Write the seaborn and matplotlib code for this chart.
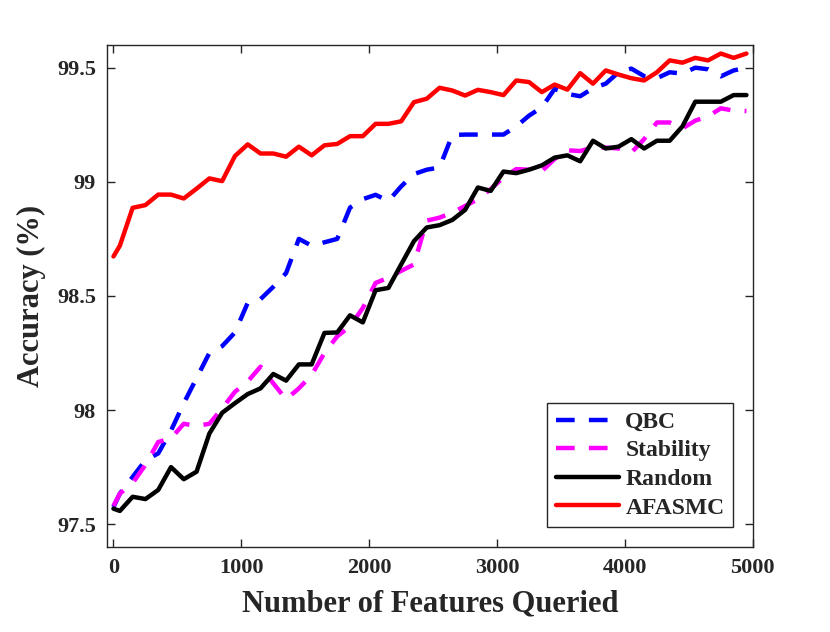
import numpy as np
import pandas as pd
import seaborn as sns
from matplotlib import pyplot as plt

# number of queried features (x grid)
features = [0, 50, 150, 250, 350, 450, 550, 650, 750, 850, 950,
            1050, 1150, 1250, 1350, 1450, 1550, 1650, 1750, 1850, 1950,
            2050, 2150, 2250, 2350, 2450, 2550, 2650, 2750, 2850, 2950,
            3050, 3150, 3250, 3350, 3450, 3550, 3650, 3750, 3850, 3950,
            4050, 4150, 4250, 4350, 4450, 4550, 4650, 4750, 4850, 4950]

qbc = [97.575, 97.634, 97.707, 97.78, 97.81, 97.91, 98.03, 98.14, 98.25, 98.28, 98.34,
       98.47, 98.486, 98.54, 98.60, 98.75, 98.72, 98.735, 98.75, 98.887, 98.924,
       98.943, 98.916, 98.98, 99.034, 99.053, 99.063, 99.205, 99.207, 99.207, 99.207,
       99.207, 99.243, 99.29, 99.326, 99.407, 99.385, 99.375, 99.41, 99.43, 99.48,
       99.496, 99.463, 99.454, 99.48, 99.474, 99.5, 99.493, 99.462, 99.488, 99.5]

stability = [97.58, 97.634, 97.68, 97.76, 97.86, 97.876, 97.94, 97.93, 97.94, 98.007, 98.08,
             98.125, 98.19, 98.117, 98.047, 98.095, 98.154, 98.25, 98.323, 98.367, 98.447,
             98.557, 98.58, 98.61, 98.638, 98.83, 98.843, 98.865, 98.894, 98.924, 98.968,
             99.019, 99.056, 99.053, 99.047, 99.1, 99.138, 99.135, 99.15, 99.15, 99.146,
             99.128, 99.187, 99.26, 99.26, 99.234, 99.268, 99.287, 99.322, 99.312, 99.31]

random_q = [97.568, 97.558, 97.62, 97.61, 97.65, 97.75, 97.697, 97.73, 97.897, 97.988, 98.03,
            98.07, 98.095, 98.158, 98.129, 98.2, 98.2, 98.338, 98.34, 98.415, 98.384,
            98.525, 98.535, 98.638, 98.74, 98.8, 98.81, 98.833, 98.877, 98.975, 98.96,
            99.045, 99.038, 99.053, 99.072, 99.106, 99.116, 99.09, 99.18, 99.146, 99.154,
            99.187, 99.146, 99.18, 99.18, 99.243, 99.351, 99.351, 99.351, 99.38, 99.38]

afasmc = [98.673, 98.72, 98.886, 98.898, 98.944, 98.944, 98.927, 98.97, 99.015, 99.003, 99.113,
          99.164, 99.124, 99.124, 99.11, 99.154, 99.116, 99.16, 99.166, 99.2, 99.2,
          99.254, 99.254, 99.265, 99.349, 99.364, 99.412, 99.40, 99.378, 99.403, 99.393,
          99.38, 99.444, 99.437, 99.393, 99.426, 99.404, 99.476, 99.43, 99.488, 99.47,
          99.454, 99.444, 99.48, 99.532, 99.522, 99.543, 99.532, 99.562, 99.543, 99.562]

series = [('QBC', qbc, 'blue', (0, (4.2, 3.2))),
          ('Stability', stability, 'magenta', (0, (4.2, 3.2))),
          ('Random', random_q, 'black', '-'),
          ('AFASMC', afasmc, 'red', '-')]

sns.set_style('white')
plt.rcParams['font.family'] = ['Liberation Serif', 'DejaVu Serif']
plt.rcParams['font.weight'] = 'bold'

fig = plt.figure(figsize=(8.3, 6.32), dpi=100)
ax = fig.add_axes([0.129, 0.1345, 0.778, 0.7945])

for name, vals, color, ls in series:
    df = pd.DataFrame({'features': features, 'acc': vals})
    sns.lineplot(data=df, x='features', y='acc', color=color, linestyle=ls,
                 lw=3.2, label=name, ax=ax)

ax.set_xlim(-50, 5000)
ax.set_ylim(97.4, 99.6)
ax.set_xticks([0, 1000, 2000, 3000, 4000, 5000])
ax.set_yticks([97.5, 98, 98.5, 99, 99.5])
ax.set_yticklabels(['97.5', '98', '98.5', '99', '99.5'])
ax.tick_params(direction='in', length=6, width=1, colors='#262626',
               labelsize=16, top=True, right=True, bottom=True, left=True, pad=8)
for lab in ax.get_xticklabels() + ax.get_yticklabels():
    lab.set_fontweight('bold')
    lab.set_color('#262626')
for sp in ax.spines.values():
    sp.set_color('#262626')
    sp.set_linewidth(1)

ax.set_xlabel('Number of Features Queried', fontsize=22, fontweight='bold',
              color='#262626', labelpad=8)
ax.set_ylabel('Accuracy (%)', fontsize=22, fontweight='bold',
              color='#262626', labelpad=8)

leg = ax.legend(loc='lower right', fontsize=17, handlelength=2.7,
                fancybox=False, framealpha=1, edgecolor='#262626',
                borderaxespad=0.85, labelspacing=0.3, handletextpad=0.25,
                borderpad=0.35)
leg.get_frame().set_linewidth(1)
for t in leg.get_texts():
    t.set_fontweight('bold')

fig.savefig('out.png', dpi=100)
